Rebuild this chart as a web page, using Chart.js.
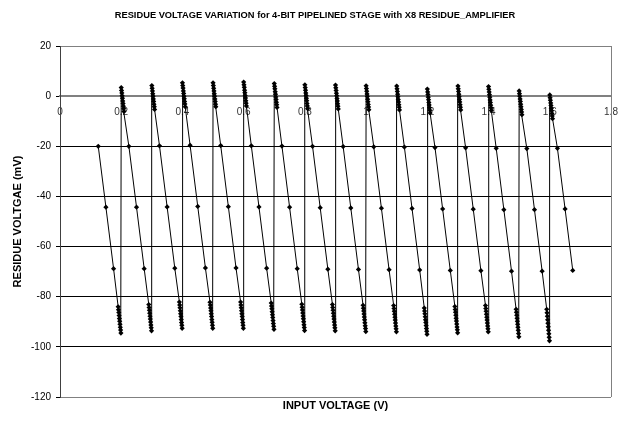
<!DOCTYPE html>
<html>
<head>
<meta charset="utf-8">
<script src="https://cdn.jsdelivr.net/npm/chart.js@4.4.1/dist/chart.umd.min.js"></script>
<style>
  body { margin: 0; background: #fff; }
  canvas { display: block; }
</style>
</head>
<body>
<canvas id="myChart" width="630" height="425"></canvas>
<script>
var chartTitle = 'RESIDUE VOLTAGE VARIATION for 4-BIT PIPELINED STAGE with X8 RESIDUE_AMPLIFIER';
var xTitle = 'INPUT VOLTAGE (V)';
var yTitle = 'RESIDUE VOLTGAE (mV)';

var xTickLabels = ['0', '0.2', '0.4', '0.6', '0.8', '1', '1.2', '1.4', '1.6', '1.8'];

// input voltage (V), fine steps near each code transition
var inputV = [
    0.125, 0.15, 0.175,
    0.19, 0.191, 0.192, 0.193, 0.194, 0.195, 0.196, 0.197, 0.198, 0.199,
    0.2, 0.201, 0.202, 0.203, 0.204, 0.205, 0.206, 0.207, 0.208, 0.209, 0.225, 0.25, 0.275,
    0.29, 0.291, 0.292, 0.293, 0.294, 0.295, 0.296, 0.297, 0.298, 0.299,
    0.3, 0.301, 0.302, 0.303, 0.304, 0.305, 0.306, 0.307, 0.308, 0.309, 0.325, 0.35, 0.375,
    0.39, 0.391, 0.392, 0.393, 0.394, 0.395, 0.396, 0.397, 0.398, 0.399,
    0.4, 0.401, 0.402, 0.403, 0.404, 0.405, 0.406, 0.407, 0.408, 0.409, 0.425, 0.45, 0.475,
    0.49, 0.491, 0.492, 0.493, 0.494, 0.495, 0.496, 0.497, 0.498, 0.499,
    0.5, 0.501, 0.502, 0.503, 0.504, 0.505, 0.506, 0.507, 0.508, 0.509, 0.525, 0.55, 0.575,
    0.59, 0.591, 0.592, 0.593, 0.594, 0.595, 0.596, 0.597, 0.598, 0.599,
    0.6, 0.601, 0.602, 0.603, 0.604, 0.605, 0.606, 0.607, 0.608, 0.609, 0.625, 0.65, 0.675,
    0.69, 0.691, 0.692, 0.693, 0.694, 0.695, 0.696, 0.697, 0.698, 0.699,
    0.7, 0.701, 0.702, 0.703, 0.704, 0.705, 0.706, 0.707, 0.708, 0.709, 0.725, 0.75, 0.775,
    0.79, 0.791, 0.792, 0.793, 0.794, 0.795, 0.796, 0.797, 0.798, 0.799,
    0.8, 0.801, 0.802, 0.803, 0.804, 0.805, 0.806, 0.807, 0.808, 0.809, 0.825, 0.85, 0.875,
    0.89, 0.891, 0.892, 0.893, 0.894, 0.895, 0.896, 0.897, 0.898, 0.899,
    0.9, 0.901, 0.902, 0.903, 0.904, 0.905, 0.906, 0.907, 0.908, 0.909, 0.925, 0.95, 0.975,
    0.99, 0.991, 0.992, 0.993, 0.994, 0.995, 0.996, 0.997, 0.998, 0.999,
    1.0, 1.001, 1.002, 1.003, 1.004, 1.005, 1.006, 1.007, 1.008, 1.009, 1.025, 1.05, 1.075,
    1.09, 1.091, 1.092, 1.093, 1.094, 1.095, 1.096, 1.097, 1.098, 1.099,
    1.1, 1.101, 1.102, 1.103, 1.104, 1.105, 1.106, 1.107, 1.108, 1.109, 1.125, 1.15, 1.175,
    1.19, 1.191, 1.192, 1.193, 1.194, 1.195, 1.196, 1.197, 1.198, 1.199,
    1.2, 1.201, 1.202, 1.203, 1.204, 1.205, 1.206, 1.207, 1.208, 1.209, 1.225, 1.25, 1.275,
    1.29, 1.291, 1.292, 1.293, 1.294, 1.295, 1.296, 1.297, 1.298, 1.299,
    1.3, 1.301, 1.302, 1.303, 1.304, 1.305, 1.306, 1.307, 1.308, 1.309, 1.325, 1.35, 1.375,
    1.39, 1.391, 1.392, 1.393, 1.394, 1.395, 1.396, 1.397, 1.398, 1.399,
    1.4, 1.401, 1.402, 1.403, 1.404, 1.405, 1.406, 1.407, 1.408, 1.409, 1.425, 1.45, 1.475,
    1.49, 1.491, 1.492, 1.493, 1.494, 1.495, 1.496, 1.497, 1.498, 1.499,
    1.5, 1.501, 1.502, 1.503, 1.504, 1.505, 1.506, 1.507, 1.508, 1.509, 1.525, 1.55, 1.575,
    1.59, 1.591, 1.592, 1.593, 1.594, 1.595, 1.596, 1.597, 1.598, 1.599,
    1.6, 1.601, 1.602, 1.603, 1.604, 1.605, 1.606, 1.607, 1.608, 1.609, 1.625, 1.65, 1.675
];

// residue voltage (mV)
var residueMv = [
    -20.0, -44.3, -68.8,
    -84.0, -85.2, -86.3, -87.5, -88.7, -89.8, -91.0, -92.2, -93.3, -94.5,
    3.4, 2.3, 1.3, 0.2, -0.8, -1.9, -2.9, -4.0, -5.0, -6.1, -20.0, -44.3, -68.8,
    -83.1, -84.3, -85.4, -86.6, -87.8, -88.9, -90.1, -91.3, -92.4, -93.6,
    4.2, 3.1, 2.1, 1.0, 0.0, -1.1, -2.1, -3.2, -4.2, -5.3, -19.8, -44.2, -68.6,
    -82.1, -83.3, -84.4, -85.6, -86.8, -87.9, -89.1, -90.3, -91.4, -92.6,
    5.3, 4.2, 3.2, 2.1, 1.1, 0.0, -1.0, -2.1, -3.1, -4.2, -19.6, -44.0, -68.5,
    -82.2, -83.3, -84.5, -85.6, -86.8, -87.9, -89.1, -90.2, -91.4, -92.6,
    5.3, 4.2, 3.1, 2.1, 1.0, 0.0, -1.1, -2.1, -3.2, -4.2, -19.7, -44.1, -68.5,
    -82.1, -83.3, -84.4, -85.6, -86.8, -87.9, -89.1, -90.3, -91.4, -92.6,
    5.6, 4.5, 3.5, 2.4, 1.4, 0.3, -0.7, -1.8, -2.8, -3.9, -19.8, -44.2, -68.6,
    -82.5, -83.7, -84.8, -86.0, -87.2, -88.3, -89.5, -90.7, -91.8, -93.0,
    5.0, 3.9, 2.9, 1.8, 0.8, -0.3, -1.3, -2.4, -3.4, -4.5, -19.9, -44.3, -68.8,
    -83.0, -84.2, -85.3, -86.5, -87.7, -88.8, -90.0, -91.2, -92.3, -93.5,
    4.5, 3.4, 2.4, 1.3, 0.3, -0.8, -1.8, -2.9, -3.9, -5.0, -20.0, -44.5, -69.0,
    -83.1, -84.3, -85.4, -86.6, -87.8, -88.9, -90.1, -91.3, -92.4, -93.6,
    4.4, 3.3, 2.3, 1.2, 0.2, -0.9, -1.9, -3.0, -4.0, -5.1, -20.1, -44.6, -69.1,
    -83.4, -84.6, -85.7, -86.9, -88.1, -89.2, -90.4, -91.6, -92.7, -93.9,
    4.1, 3.0, 2.0, 0.9, -0.1, -1.2, -2.2, -3.3, -4.3, -5.4, -20.2, -44.7, -69.2,
    -83.5, -84.7, -85.8, -87.0, -88.2, -89.3, -90.5, -91.7, -92.8, -94.0,
    4.0, 2.9, 1.9, 0.8, -0.2, -1.3, -2.3, -3.4, -4.4, -5.5, -20.3, -44.8, -69.3,
    -84.5, -85.7, -86.8, -88.0, -89.2, -90.3, -91.5, -92.7, -93.8, -95.0,
    2.8, 1.7, 0.7, -0.4, -1.4, -2.5, -3.5, -4.6, -5.6, -6.7, -20.5, -45.0, -69.5,
    -83.9, -85.1, -86.2, -87.4, -88.6, -89.7, -90.9, -92.1, -93.2, -94.4,
    4.0, 2.9, 1.9, 0.8, -0.2, -1.3, -2.3, -3.4, -4.4, -5.5, -20.6, -45.1, -69.6,
    -83.5, -84.7, -85.8, -87.0, -88.2, -89.3, -90.5, -91.7, -92.8, -94.0,
    3.8, 2.7, 1.7, 0.6, -0.4, -1.5, -2.5, -3.6, -4.6, -5.7, -20.8, -45.3, -69.8,
    -85.0, -86.2, -87.4, -88.6, -89.8, -91.0, -92.2, -93.4, -94.7, -96.0,
    2.1, 1.0, 0.0, -1.1, -2.1, -3.2, -4.2, -5.3, -6.3, -7.4, -20.9, -45.3, -69.8,
    -85.0, -86.4, -87.8, -89.2, -90.6, -92.0, -93.4, -94.8, -96.2, -97.6,
    0.5, -0.6, -1.6, -2.7, -3.7, -4.8, -5.8, -6.9, -7.9, -9.0, -20.8, -45.0, -69.5
];

var points = inputV.map(function (v, i) {
    return { x: v, y: residueMv[i] };
});

var fontFamily = '"Liberation Sans", Arial, sans-serif';

var titlesPlugin = {
    id: 'titles',
    afterDraw: function (chart) {
        var c = chart.ctx;
        var area = chart.chartArea;
        c.save();
        c.fillStyle = '#000';
        c.textAlign = 'center';
        c.textBaseline = 'middle';
        c.font = 'bold 9.3px ' + fontFamily;
        c.fillText(chartTitle, 315, 15);
        c.font = 'bold 11px ' + fontFamily;
        c.fillText(xTitle, (area.left + area.right) / 2, 406);
        c.translate(18, (area.top + area.bottom) / 2);
        c.rotate(-Math.PI / 2);
        c.fillText(yTitle, 0, 0);
        c.restore();

        // plot area frame on the right
        c.save();
        c.strokeStyle = '#808080';
        c.lineWidth = 1;
        c.beginPath();
        c.moveTo(Math.round(area.right) + 0.5, area.top);
        c.lineTo(Math.round(area.right) + 0.5, area.bottom);
        c.stroke();
        c.restore();
    }
};

var ctx = document.getElementById('myChart');
var myChart = new Chart(ctx, {
    type: 'scatter',
    data: {
        datasets: [{
            data: points,
            showLine: true,
            borderColor: '#000',
            borderWidth: 1,
            pointStyle: 'rectRot',
            pointRadius: 2.6,
            pointBackgroundColor: '#000',
            pointBorderColor: '#000',
            pointBorderWidth: 0
        }]
    },
    options: {
        responsive: false,
        animation: false,
        devicePixelRatio: 1,
        layout: {
            padding: { left: 0, top: 46, right: 19, bottom: 28 }
        },
        plugins: {
            legend: { display: false },
            tooltip: { enabled: false }
        },
        scales: {
            x: {
                type: 'linear',
                min: 0,
                max: 1.8,
                position: { y: 0 },
                grid: { display: false, drawTicks: false },
                border: { display: true, color: '#808080', width: 2 },
                ticks: {
                    stepSize: 0.2,
                    padding: 10,
                    color: '#333',
                    font: { family: fontFamily, size: 10 },
                    maxRotation: 0,
                    autoSkip: false,
                    callback: function (value, index) {
                        return xTickLabels[index];
                    }
                }
            },
            y: {
                min: -120,
                max: 20,
                grid: {
                    color: function (c) {
                        var v = c.tick.value;
                        if (v === 0) return 'rgba(0,0,0,0)';
                        if (v === 20 || v === -120) return '#808080';
                        return '#000';
                    },
                    tickColor: '#000',
                    tickLength: 4
                },
                border: { display: true, color: '#404040', width: 1 },
                ticks: {
                    stepSize: 20,
                    padding: 5,
                    color: '#000',
                    font: { family: fontFamily, size: 10 }
                },
                afterFit: function (scale) {
                    scale.width = 60;
                }
            }
        }
    },
    plugins: [titlesPlugin]
});
</script>
</body>
</html>
